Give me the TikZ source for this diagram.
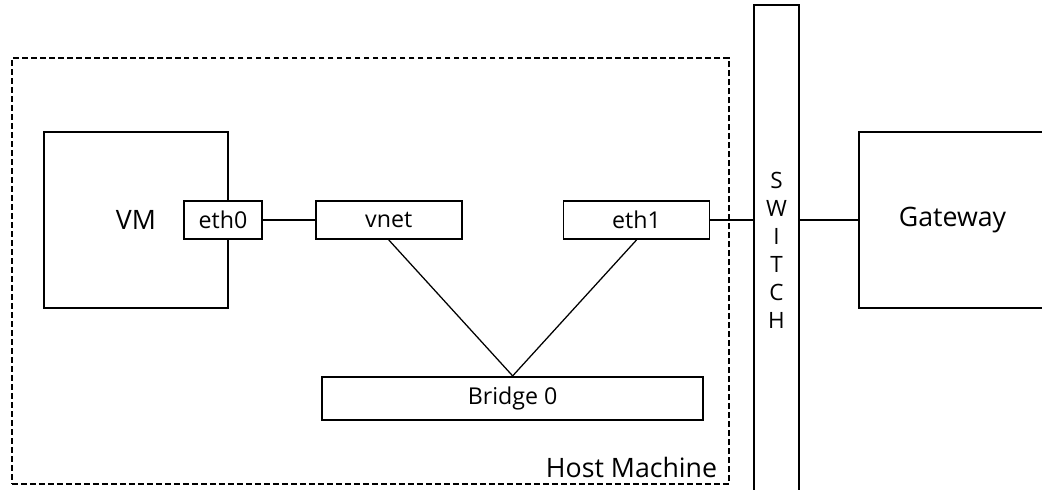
\documentclass[tikz,border=0pt]{standalone}
\usepackage{fontspec}
\setmainfont{Open Sans}
\usepackage{tikz}
\usetikzlibrary{positioning,calc}
\tikzset{
  net host/.style={rectangle, draw, dash pattern=on 4.2pt off 2.2pt, line width=0.8pt},
  net machine/.style={rectangle, draw, fill=white, line width=1.3pt, minimum width=4.6cm, minimum height=4.4cm, font=\fontsize{19}{23}\selectfont},
  net port/.style={rectangle, draw, fill=white, line width=1.3pt, minimum height=0.95cm, inner sep=0pt, font=\fontsize{16.5}{19}\selectfont},
  net link/.style={line width=0.9pt}
}

\begin{document}
\begin{tikzpicture}[node distance=1.3cm, thick]
    \path [use as bounding box, clip] (0,0) rectangle (26.05,12.25);

    % Host machine
    \node [net host, minimum width=17.925cm, minimum height=10.65cm] (Host) at (9.2625,5.475) {};
    \node [anchor=base east, font=\fontsize{19}{23}\selectfont] (HostLabel) at ([shift={(-0.18,0.18)}]Host.south east) {Host Machine};

    % Virtual machine and its interface
    \node [net machine] (VM) at (3.4,6.75) {VM};
    \node [net port, minimum width=1.95cm] (Eth0) at ([xshift=-0.15cm]VM.east) {eth0};

    % Host interfaces
    \node [net port, minimum width=3.65cm, right=1.3cm of Eth0] (Vnet) {vnet};
    \node [net port, minimum width=3.65cm, right=2.5cm of Vnet] (Eth1) {eth1};

    % Bridge
    \coordinate (Mid) at ($(Vnet.south)!0.5!(Eth1.south)$);
    \node [net port, minimum width=9.525cm, minimum height=1.075cm, below=3.4cm of Mid] (Bridge) {Bridge 0};

    % Switch and gateway
    \node [net port, minimum width=1.125cm, minimum height=12.275cm, align=center, font=\fontsize{16}{19.9}\selectfont] (Switch) at (19.4125,5.9875) {S\\W\\I\\T\\C\\H};
    \node [net machine, minimum width=4.675cm] (Gateway) at (23.8125,6.75) {Gateway};

    % Links
    \draw [net link] (Eth0) -- (Vnet);
    \draw [net link] (Vnet.south) -- (Bridge.north);
    \draw [net link] (Eth1.south) -- (Bridge.north);
    \draw [net link] (Eth1) -- (Eth1 -| Switch.west);
    \draw [net link] (Gateway.west -| Switch.east) -- (Gateway);
\end{tikzpicture}
\end{document}
